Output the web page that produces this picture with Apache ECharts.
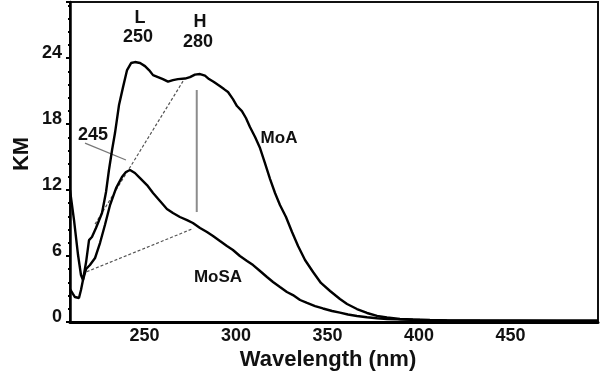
<!DOCTYPE html>
<html><head><meta charset="utf-8">
<script src="https://cdn.jsdelivr.net/npm/echarts@6/dist/echarts.min.js"></script>
<style>html,body{margin:0;padding:0;background:#fff}#c{width:600px;height:385px}</style>
</head><body><div id="c"></div>
<script>
// MoA spectrum
const moaWavelength = [209.2,211.4,213.6,215.2,216.3,218.0,219.6,221.2,223.4,226.7,228.9,230.5,232.2,233.8,236.0,238.2,240.4,242.6,244.7,247.5,250.2,252.4,254.6,257.3,260.0,262.8,265.5,268.2,272.1,274.8,277.5,280.3,283.0,285.2,287.9,290.7,293.4,295.6,298.3,300.5,303.2,305.4,307.6,310.4,313.1,315.8,318.6,321.3,324.0,327.3,330.6,333.9,337.7,342.1,346.4,351.4,356.8,360.7,366.1,371.6,377.1,382.5,389.6,396.7,406.0,415.3,433.4,455.2,477.1,497.9];
const moaKM = [12.0,9.27,6.09,4.27,3.82,5.45,7.45,7.73,8.55,9.91,11.82,13.82,15.64,17.18,19.73,21.36,22.91,23.55,23.64,23.55,23.27,22.91,22.45,22.27,22.09,21.86,22.0,22.09,22.14,22.27,22.5,22.55,22.41,22.09,21.82,21.5,21.18,20.91,20.27,19.64,19.18,18.55,17.73,16.82,15.82,14.45,13.0,11.73,10.64,9.55,8.18,6.91,5.64,4.55,3.55,2.82,2.09,1.64,1.18,0.82,0.55,0.41,0.27,0.23,0.18,0.15,0.12,0.1,0.08,0.07];
// MoSA spectrum
const mosaWavelength = [209.2,210.8,211.9,214.1,215.2,216.3,218.0,220.1,222.9,225.6,228.3,231.1,234.4,237.6,239.8,242.0,244.7,247.5,251.3,254.6,258.4,262.2,265.5,269.3,273.2,276.4,280.3,284.1,287.4,291.2,295.0,298.3,302.1,306.0,309.3,313.1,316.9,320.2,324.0,327.8,331.1,335.0,338.8,343.2,347.5,352.5,356.8,361.2,366.1,371.6,377.1,382.5,388.0,395.1,400.6,417.0,444.3,497.9];
const mosaKM = [3.0,2.55,2.27,2.18,2.91,3.82,4.82,5.18,5.82,7.18,8.82,10.64,12.18,13.18,13.64,13.82,13.55,13.09,12.45,11.73,11.0,10.27,9.91,9.55,9.27,9.0,8.55,8.18,7.82,7.36,6.91,6.55,6.0,5.55,5.18,4.64,4.09,3.64,3.18,2.73,2.45,2.0,1.73,1.45,1.23,1.0,0.85,0.68,0.55,0.43,0.34,0.27,0.25,0.21,0.18,0.15,0.14,0.13];
// guide lines [wavelength, KM]
const tangentMoA = [[222.9,8.9],[271.0,21.9]];
const tangentMoSA = [[218.3,4.57],[276.6,8.5]];
const heightLine = [[278.5,21.1],[278.5,10.0]];
const pointer245 = [[217.4,16.27],[239.8,14.73]];
const xTickLabels = [250,300,350,400,450];
const yTickLabels = [0,6,12,18,24];

const zip = (a,b) => a.map((v,i)=>[v,b[i]]);
const FONT = '"Liberation Sans", Arial, sans-serif';
const chart = echarts.init(document.getElementById('c'), null, {renderer:'canvas'});
function txt(text, x, y, size, rot){
  return {type:'text', x:x, y:y, rotation: rot||0, z:100,
    style:{text:text, x:0, y:0, fill:'#111', font:'bold '+size+'px '+FONT,
      align:'center', verticalAlign:'middle', textAlign:'center', textVerticalAlign:'middle'}};
}
chart.setOption({
  animation:false,
  backgroundColor:'#fff',
  grid:{left:70, right:2, top:2, bottom:63, show:true, borderColor:'#111', borderWidth:2, backgroundColor:'transparent'},
  xAxis:{type:'value', min:209.2, max:497.9,
    axisLine:{show:true, onZero:false, lineStyle:{color:'#000', width:3}},
    axisTick:{show:false}, splitLine:{show:false},
    axisLabel:{customValues:xTickLabels, color:'#111', fontSize:18, fontWeight:'bold', fontFamily:FONT, margin:5}
  },
  yAxis:{type:'value', min:0, max:29.1, interval:6,
    axisLine:{show:true, lineStyle:{color:'#000', width:2.5}},
    axisTick:{show:true, inside:false, length:4, lineStyle:{color:'#000', width:2}},
    minorTick:{show:true, splitNumber:5, length:2, lineStyle:{color:'#000', width:2}},
    splitLine:{show:false}, minorSplitLine:{show:false},
    axisLabel:{customValues:yTickLabels, color:'#111', fontSize:18, fontWeight:'bold', fontFamily:FONT, margin:8, verticalAlign:'bottom', lineHeight:10}
  },
  series:[
    {type:'line', data:zip(moaWavelength, moaKM), showSymbol:false, symbol:'none', lineStyle:{color:'#000', width:2.4}, z:5},
    {type:'line', data:zip(mosaWavelength, mosaKM), showSymbol:false, symbol:'none', lineStyle:{color:'#000', width:2.4}, z:5},
    {type:'line', data:tangentMoA, symbol:'none', lineStyle:{color:'#555', width:1.2, type:[3,2]}, z:3},
    {type:'line', data:tangentMoSA, symbol:'none', lineStyle:{color:'#555', width:1.2, type:[3,2]}, z:3},
    {type:'line', data:heightLine, symbol:'none', lineStyle:{color:'#8c8c8c', width:2}, z:3},
    {type:'line', data:pointer245, symbol:'none', lineStyle:{color:'#777', width:1.3}, z:3}
  ],
  graphic:[
    txt('L',140,18,18), txt('250',138,37,18),
    txt('H',200,22,18), txt('280',198,42,18),
    txt('245',93,135,18),
    txt('MoA',279,138,17), txt('MoSA',218,277,17),
    txt('KM',22,154,22,Math.PI/2),
    txt('Wavelength (nm)',328,360,22)
  ]
});
</script></body></html>
